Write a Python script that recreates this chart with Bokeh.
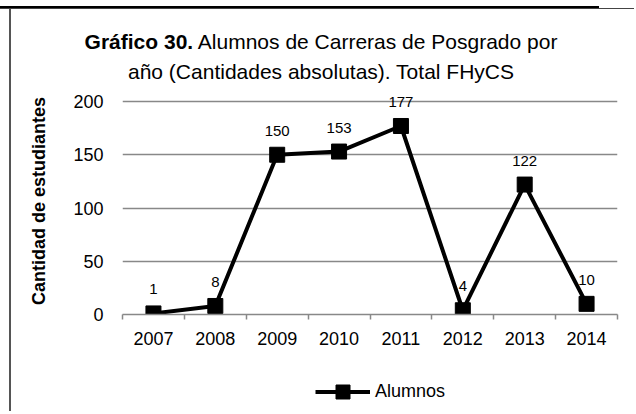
from bokeh.plotting import figure
from bokeh.models import Legend, LegendItem, FixedTicker, ColumnDataSource, Range1d, Div
from bokeh.layouts import column
from bokeh.core.properties import value
from bokeh.embed import file_html
from bokeh.resources import INLINE

# ---- data ----
years = ["2007", "2008", "2009", "2010", "2011", "2012", "2013", "2014"]
alumnos = [1, 8, 150, 153, 177, 4, 122, 10]
y_ticks = [0, 50, 100, 150, 200]
series_name = "Alumnos"
title_bold = "Gráfico 30."
title_rest = "Alumnos de Carreras de Posgrado por"
title_line2 = "año (Cantidades absolutas). Total FHyCS"
y_title = "Cantidad de estudiantes"

FONT = "Liberation Sans"

xs = list(range(len(years)))
src = ColumnDataSource(dict(x=xs, y=alumnos, lbl=[str(v) for v in alumnos]))

# ---- geometry (screen px) ----
FIG_X, FIG_Y = 11, 88         # main figure top-left on the page
W = 620
FL, FR, FB = 122, 617, 315    # frame left / right / bottom
FIG_BOTTOM = 355              # main figure bottom edge
PAGE_BOTTOM = 412
H1 = FIG_BOTTOM - FIG_Y
H2 = PAGE_BOTTOM - FIG_BOTTOM
PX_PER_Y = 213.0 / 200.0
Y_END = (FB - FIG_Y) / PX_PER_Y

LINE_STYLE = dict(line_color="black", line_width=4)
MARK_STYLE = dict(marker="square", fill_color="black", line_color="black")

p = figure(width=W, height=H1, output_backend="svg", toolbar_location=None,
           x_range=Range1d(-0.5, len(years) - 0.5), y_range=Range1d(0, Y_END),
           min_border_left=FL - FIG_X, min_border_right=FIG_X + W - FR,
           min_border_top=0, min_border_bottom=FIG_BOTTOM - FB)
p.outline_line_color = None
p.background_fill_color = "white"
p.border_fill_color = "white"

# ---- axes ----
xa = p.xaxis[0]
xa.ticker = FixedTicker(ticks=xs, minor_ticks=[i - 0.5 for i in range(len(years) + 1)])
xa.major_label_overrides = {i: yv for i, yv in zip(xs, years)}
xa.major_tick_in = 0
xa.major_tick_out = 0
xa.minor_tick_in = 0
xa.minor_tick_out = 5
xa.minor_tick_line_color = "#888888"
xa.minor_tick_line_width = 1.5
xa.axis_line_color = "#888888"
xa.axis_line_width = 1.5
xa.major_label_text_font = FONT
xa.major_label_text_font_size = "18px"
xa.major_label_text_color = "black"
xa.major_label_standoff = 12

ya = p.yaxis[0]
ya.ticker = FixedTicker(ticks=y_ticks)
ya.axis_line_color = None
ya.major_tick_line_color = None
ya.minor_tick_line_color = None
ya.major_label_text_font = FONT
ya.major_label_text_font_size = "18px"
ya.major_label_text_color = "black"
ya.major_label_standoff = 13
ya.axis_label = y_title
ya.axis_label_text_font = FONT
ya.axis_label_text_font_size = "18px"
ya.axis_label_text_font_style = "bold"
ya.axis_label_text_color = "black"
ya.axis_label_standoff = 21

p.xgrid.grid_line_color = None
p.ygrid.grid_line_color = "#888888"
p.ygrid.grid_line_width = 1.5

# ---- data labels (behind the line) ----
p.text(x="x", y="y", text="lbl", source=src, text_font=value(FONT),
       text_font_size="15px", text_color="black", text_align="center",
       text_baseline="middle", y_offset=-24)

# ---- series ----
p.line(x="x", y="y", source=src, **LINE_STYLE)
p.scatter(x="x", y="y", source=src, size=15, **MARK_STYLE)

# ---- legend strip (own small figure below the chart; frame aligned with the chart's) ----
lf = figure(width=W, height=H2, output_backend="svg", toolbar_location=None,
            x_axis_location=None, y_axis_location=None,
            x_range=Range1d(-0.5, len(years) - 0.5), y_range=Range1d(0, 1),
            min_border_left=0, min_border_right=0, min_border_top=0, min_border_bottom=0)
lf.outline_line_color = None
lf.xgrid.visible = False
lf.ygrid.visible = False
l_line = lf.line(x="x", y="y", source=src, visible=False, **LINE_STYLE)
l_mark = lf.scatter(x="x", y="y", source=src, size=15, visible=False, **MARK_STYLE)
legend = Legend(items=[LegendItem(label=series_name, renderers=[l_line, l_mark])],
                location=(315 - FL, PAGE_BOTTOM - 392 - 17.5),
                orientation="horizontal",
                glyph_width=55, glyph_height=35, label_height=20,
                label_standoff=5, padding=0, margin=0, spacing=0,
                border_line_alpha=0, background_fill_alpha=0,
                inactive_fill_alpha=0,
                label_text_font=FONT, label_text_font_size="18px",
                label_text_color="black")
lf.add_layout(legend)

# ---- title (mixed bold, two lines) ----
title_html = (
    f'<div style="font-family:\'{FONT}\'; font-size:21px; line-height:30px; '
    f'color:black; text-align:center; padding-top:18px; padding-left:8px; '
    f'width:{W - 8}px; white-space:nowrap;">'
    f'<b>{title_bold}</b> {title_rest}<br>{title_line2}</div>'
)
title_div = Div(text=title_html, width=W, height=FIG_Y - 10, margin=0)

top_rule = Div(text="", width=634, height=3, margin=0,
               styles={"background": "linear-gradient(90deg, black 599px, transparent 599px)",
                       "border-bottom": "1px solid #444444"})

inner = column(title_div, p, lf, margin=0, spacing=0,
               styles={"margin-left": "9px", "border-left": "2px solid #555555"})
page = column(top_rule, inner, margin=0, spacing=0, styles={"margin-top": "6px"})

open("out.html", "w").write(file_html(page, INLINE))
